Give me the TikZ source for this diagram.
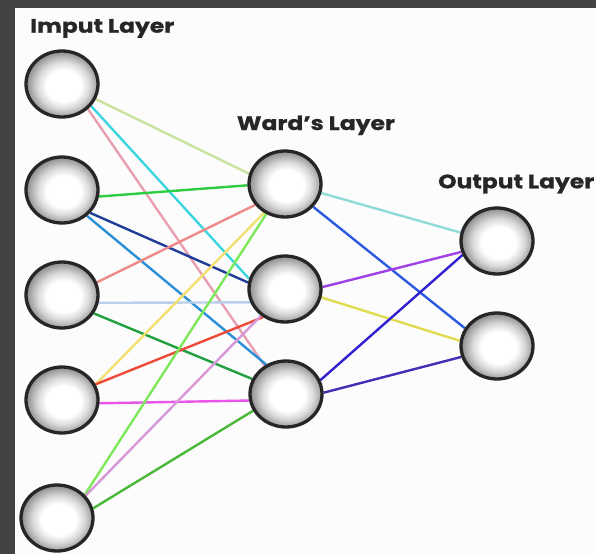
\documentclass[tikz,border=0pt]{standalone}
\usepackage{fontspec}
\newfontfamily\labelfont{Poppins}[FakeStretch=1.2,FakeBold=0.8]
\usetikzlibrary{shapes.geometric}

% spherical look of each neuron
\pgfdeclareradialshading{orb}{\pgfpoint{1.5bp}{-1.5bp}}{%
  color(0bp)=(white); color(12bp)=(white); color(18bp)=(gray!30);
  color(22.5bp)=(gray!65); color(25bp)=(gray!85); color(50bp)=(gray!85)}

\pgfdeclarelayer{backdrop}
\pgfdeclarelayer{edges}
\pgfsetlayers{backdrop,edges,main}

\definecolor{frame}{HTML}{434343}
\definecolor{rim}{HTML}{262626}
% connector colours
\definecolor{cA}{RGB}{201,227,158}
\definecolor{cB}{RGB}{61,214,222}
\definecolor{cC}{RGB}{232,160,176}
\definecolor{cD}{RGB}{46,204,64}
\definecolor{cE}{RGB}{31,61,153}
\definecolor{cF}{RGB}{42,143,214}
\definecolor{cG}{RGB}{238,138,136}
\definecolor{cH}{RGB}{186,208,234}
\definecolor{cI}{RGB}{34,160,64}
\definecolor{cJ}{RGB}{243,224,112}
\definecolor{cK}{RGB}{238,74,60}
\definecolor{cL}{RGB}{232,85,232}
\definecolor{cM}{RGB}{126,232,90}
\definecolor{cN}{RGB}{216,152,216}
\definecolor{cO}{RGB}{76,184,58}
\definecolor{cP}{RGB}{144,220,216}
\definecolor{cQ}{RGB}{42,90,224}
\definecolor{cR}{RGB}{160,64,232}
\definecolor{cS}{RGB}{224,220,80}
\definecolor{cT}{RGB}{48,32,208}
\definecolor{cU}{RGB}{64,48,184}

\begin{document}
\begin{tikzpicture}[x=1pt,y=-1pt,
  neuron/.style={ellipse,minimum width=72pt,minimum height=66pt,inner sep=0pt,
    draw=rim,line width=3.3pt,shading=orb},
  layertitle/.style={anchor=base west,inner sep=0pt,
    font=\labelfont\bfseries\fontsize{19.5}{20}\selectfont,text=black!85},
  link/.style={line width=2.4pt}]

\useasboundingbox (0,0) rectangle (596,554);

% neurons
\node[neuron] (i1) at (62,84)  {};
\node[neuron] (i2) at (62,190) {};
\node[neuron] (i3) at (62,295) {};
\node[neuron] (i4) at (62,400) {};
\node[neuron] (i5) at (57,518) {};

\node[neuron] (h1) at (285,184) {};
\node[neuron] (h2) at (285,289) {};
\node[neuron] (h3) at (286,394) {};

\node[neuron] (o1) at (497,241) {};
\node[neuron] (o2) at (497,346) {};

% layer titles
\node[layertitle] (tin)  at (30,32.7)   {Imput Layer};
\node[layertitle] (thid) at (236.7,130) {Ward’s Layer};
\node[layertitle] (tout) at (438,188.3) {Output Layer};

\begin{pgfonlayer}{backdrop}
  \fill[frame] (0,0) rectangle (596,554);
  \fill[white!99!black] (15,8) rectangle (596,554);
\end{pgfonlayer}

\begin{pgfonlayer}{edges}
  % input -> hidden
  \draw[link,cA] (i1.-24) -- (h1.164);
  \draw[link,cB] (i1.-37) -- (h2.164);
  \draw[link,cC] (i1.-44) -- (h3.127);

  \draw[link,cD] (i2.-10) -- (h1.182);
  \draw[link,cE] (i2.-39) -- (h2.170);
  \draw[link,cF] (i2.-46) -- (h3.124);

  \draw[link,cG] (i3.20) -- (h1.215);
  \draw[link,cH] (i3.-12) -- (h2.201);
  \draw[link,cI] (i3.-30) -- (h3.156);

  \draw[link,cJ] (i4.25) -- (h1.234);
  \draw[link,cK] (i4.25) -- (h2.232);
  \draw[link,cL] (i4.-5) -- (h3.190);

  \draw[link,cM] (i5.40) -- (h1.238);
  \draw[link,cN] (i5.38) -- (h2.228);
  \draw[link,cO] (i5.15) -- (h3.207);

  % hidden -> output
  \draw[link,cP] (h1.-14) -- (o1.167);
  \draw[link,cQ] (h1.-39) -- (o2.151);
  \draw[link,cR] (h2.3) -- (o1.197);
  \draw[link,cS] (h2.-13) -- (o2.172);
  \draw[link,cT] (h3.22) -- (o1.202);
  \draw[link,cU] (h3.2) -- (o2.197);
\end{pgfonlayer}

\end{tikzpicture}
\end{document}
